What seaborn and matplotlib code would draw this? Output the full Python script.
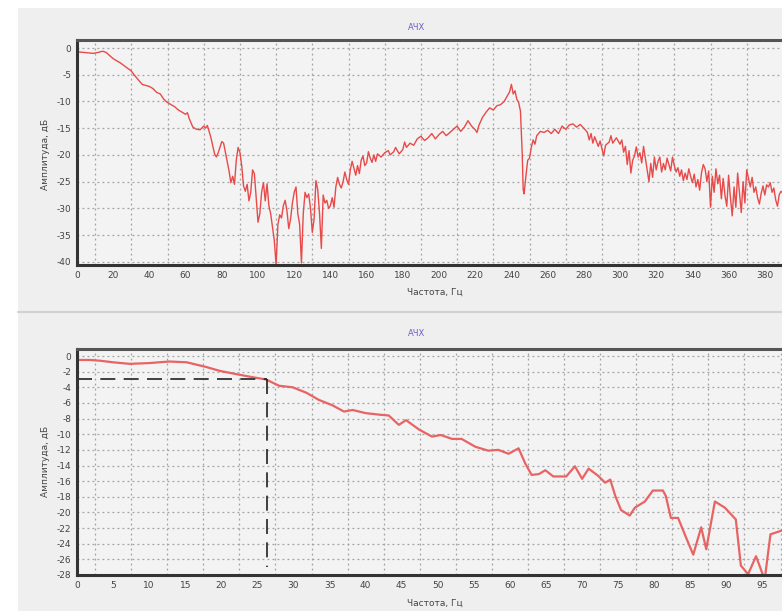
#АЧХ: two frequency response panels (full band and low band with -3 dB cutoff)
import matplotlib
matplotlib.use("Agg")
import matplotlib.pyplot as plt
from matplotlib.ticker import MultipleLocator
from matplotlib.lines import Line2D
from matplotlib.patches import Rectangle
import pandas as pd
import seaborn as sns

#верхний график: 0..390 Гц
freq_top = [0, 3, 6, 9, 12, 14, 16, 18, 20, 22, 24, 26, 28, 30, 32, 34, 36, 38, 40, 42,
            44, 46, 48, 50, 52, 54, 56, 58, 60, 61, 62, 64, 66, 68, 70, 71, 72, 73, 74, 76,
            77, 78, 80, 81, 82, 84, 85, 86, 87, 88, 89, 90, 91, 92, 93, 94, 95, 96, 97, 98,
            99, 100, 101, 102, 103, 104, 105, 106, 107, 108, 109, 110, 111, 112, 113, 114, 115, 116, 117, 118,
            119, 120, 121, 122, 123, 124, 125, 126, 127, 128, 129, 130, 131, 132, 133, 134, 135, 136, 137, 138,
            139, 140, 141, 142, 143, 144, 145, 146, 147, 148, 149, 150, 151, 152, 153, 154, 155, 156, 157, 158,
            159, 160, 161, 162, 163, 164, 165, 166, 168, 170, 172, 173, 175, 176, 178, 180, 181, 182, 184, 186,
            188, 190, 192, 194, 196, 198, 200, 202, 204, 206, 208, 210, 212, 214, 216, 218, 220, 221, 222, 224,
            226, 228, 230, 232, 234, 236, 238, 239, 240, 241, 242, 243, 244, 245, 246, 246.5, 247, 248, 249, 250,
            251, 252, 253, 254, 256, 258, 260, 262, 264, 266, 268, 270, 272, 274, 276, 278, 280, 282, 283, 284,
            285, 286, 288, 289, 291, 292, 294, 295, 296, 298, 300, 301, 302, 303, 304, 305, 306, 307, 308, 309,
            310, 311, 312, 313, 314, 315, 316, 317, 318, 319, 320, 321, 322, 323, 324, 325, 326, 327, 328, 329,
            330, 331, 332, 333, 334, 335, 336, 337, 338, 339, 340, 341, 342, 343, 344, 345, 346, 347, 348, 349,
            350, 351, 352, 353, 354, 355, 356, 357, 358, 359, 360, 361, 362, 363, 364, 365, 366, 367, 368, 369,
            370, 371, 372, 373, 374, 375, 376, 377, 378, 379, 380, 381, 382, 383, 384, 385, 386, 387, 388, 389,
            390]
amp_top = [-0.7, -0.8, -0.9, -1.0, -0.8, -0.6, -0.8, -1.4, -2.0, -2.4, -2.8, -3.3, -3.8, -4.3, -5.2, -6.0, -6.8, -7.0, -7.2, -7.6,
           -8.3, -8.6, -9.6, -10.2, -10.6, -11.0, -11.6, -12.0, -12.4, -12.1, -13.2, -14.8, -15.2, -15.3, -14.6, -15.0, -14.5, -15.6, -16.8, -19.8,
           -20.4, -19.6, -17.5, -17.8, -19.5, -23.0, -25.2, -24.0, -25.5, -21.0, -18.6, -19.5, -22.0, -25.8, -26.8, -25.5, -28.6, -27.0, -22.8, -23.5,
           -28.0, -32.6, -31.0, -27.0, -25.2, -28.6, -25.4, -29.5, -31.0, -33.5, -36.0, -40.6, -33.0, -31.2, -31.8, -29.5, -28.5, -30.5, -33.8, -32.0,
           -29.0, -27.0, -26.0, -31.0, -33.0, -40.2, -31.0, -27.0, -28.0, -27.3, -30.0, -34.5, -32.0, -24.8, -26.5, -31.0, -37.5, -27.5, -29.0, -28.5,
           -30.0, -29.5, -28.0, -29.8, -26.0, -24.2, -25.5, -26.2, -25.0, -23.2, -24.6, -25.5, -22.8, -21.2, -22.5, -23.8, -22.0, -23.5, -21.0, -20.2,
           -22.0, -21.5, -19.4, -20.6, -21.4, -20.0, -21.2, -19.8, -20.4, -19.6, -19.2, -20.0, -19.4, -18.6, -19.8, -19.0, -17.6, -18.6, -17.8, -18.2,
           -17.0, -16.5, -17.3, -16.8, -16.0, -17.0, -16.2, -15.6, -16.4, -15.8, -15.2, -14.6, -15.6, -14.8, -13.6, -14.6, -15.3, -15.8, -14.5, -13.0,
           -12.0, -11.2, -11.6, -10.8, -10.6, -10.0, -8.8, -8.2, -6.8, -8.6, -8.0, -9.6, -10.2, -11.8, -20.0, -26.5, -27.3, -24.0, -21.0, -20.6,
           -18.6, -17.2, -18.0, -16.4, -15.6, -15.8, -15.4, -16.0, -15.2, -16.0, -14.6, -15.2, -14.4, -14.2, -14.8, -14.3, -15.0, -15.8, -17.2, -16.0,
           -17.8, -16.6, -18.4, -17.4, -20.2, -18.2, -17.6, -16.4, -17.8, -16.8, -18.0, -17.2, -19.5, -18.4, -21.8, -19.2, -23.4, -21.0, -20.2, -18.5,
           -20.4, -19.6, -21.5, -18.4, -20.6, -22.8, -25.0, -21.6, -24.2, -20.4, -22.8, -21.2, -20.4, -23.2, -21.6, -22.8, -20.6, -21.8, -23.0, -20.4,
           -22.0, -23.2, -22.4, -24.0, -22.8, -24.8, -23.4, -24.6, -22.6, -24.0, -25.2, -23.6, -26.0, -24.6, -26.6, -23.4, -21.8, -22.6, -25.0, -23.0,
           -29.8, -24.0, -27.0, -22.6, -25.4, -23.8, -28.2, -24.4, -27.6, -29.6, -23.8, -28.0, -31.4, -26.0, -29.8, -23.4, -27.2, -30.8, -25.0, -29.0,
           -22.8, -24.4, -26.0, -24.2, -27.0, -26.0, -28.0, -29.2, -27.2, -25.8, -27.5, -25.6, -26.0, -25.2, -27.0, -26.2, -28.4, -29.6, -27.4, -26.8,
           -27.2]

#нижний график: 0..98 Гц
freq_bot = [0, 1.8, 3.2, 5, 7.3, 10, 12.8, 15.2, 17.9, 19.8, 22, 24.3, 26.2, 28, 29.9, 31.8, 33.5, 35.4, 37, 38.2,
            40, 41.9, 43.2, 44.6, 45.6, 47.4, 49.2, 50.4, 52, 53.3, 55.2, 57, 58.4, 59.8, 61.2, 62.1, 63, 64, 64.9, 66,
            67.8, 69, 70, 70.9, 72.2, 73.2, 73.9, 74.6, 75.4, 76.6, 77.3, 78.7, 79.8, 81.2, 81.6, 82.3, 83.3, 84.4, 85.4, 86.5,
            87.2, 88.4, 89.8, 91.3, 92, 93, 94.1, 95.3, 96.1, 97.4, 98]
amp_bot = [-0.5, -0.5, -0.6, -0.8, -1.0, -0.9, -0.7, -0.8, -1.4, -1.9, -2.3, -2.7, -3.0, -3.8, -4.0, -4.7, -5.6, -6.3, -7.1, -6.9,
           -7.3, -7.5, -7.6, -8.8, -8.2, -9.4, -10.3, -10.1, -10.6, -10.6, -11.6, -12.1, -12.0, -12.5, -11.8, -13.7, -15.2, -15.1, -14.6, -15.4,
           -15.4, -14.1, -15.7, -14.4, -15.3, -16.2, -15.8, -17.9, -19.7, -20.4, -19.4, -18.6, -17.2, -17.2, -17.9, -20.7, -20.7, -23.2, -25.4, -21.9,
           -24.7, -18.6, -19.4, -20.9, -26.8, -27.9, -25.6, -28.6, -22.8, -22.4, -22.2]

cutoff_freq = 26.3   #частота среза, Гц
cutoff_level = -3    #уровень -3 дБ

top_df = pd.DataFrame({"freq": freq_top, "amp": amp_top})
bot_df = pd.DataFrame({"freq": freq_bot, "amp": amp_bot})

sns.set_theme(style="white")
plt.rcParams["font.family"] = ["DejaVu Sans"]
plt.rcParams["axes.unicode_minus"] = False

W, H = 782, 611
fig = plt.figure(figsize=(W / 100, H / 100), dpi=100)
fig.patch.set_facecolor("white")
fig.add_artist(Rectangle((18 / W, 0), 1, 1 - 8 / H, transform=fig.transFigure,
                         facecolor="#efefef", edgecolor="none", zorder=-2))
fig.add_artist(Line2D([18 / W, 1], [1 - 312 / H] * 2, transform=fig.transFigure,
                      color="#d2d2d2", lw=1.5))

ax1 = fig.add_axes([77 / W, 1 - 265 / H, 1 - 77 / W, 225 / H])
ax2 = fig.add_axes([77 / W, 1 - 575 / H, 1 - 77 / W, 226 / H])


def style_axes(ax, xmax, xstep, ylim, ystep):
    ax.set_facecolor("#f3f3f3")
    ax.set_xlim(0, xmax)
    ax.set_ylim(*ylim)
    ax.xaxis.set_major_locator(MultipleLocator(xstep))
    ax.xaxis.set_minor_locator(MultipleLocator(xstep, offset=xstep / 2))
    ax.yaxis.set_major_locator(MultipleLocator(ystep))
    ax.grid(which="minor", axis="x", color="#a2a2a2", lw=0.9, ls=(0, (1.5, 2.5)))
    ax.grid(which="major", axis="y", color="#a2a2a2", lw=0.9, ls=(0, (1.5, 2.5)))
    ax.tick_params(which="major", labelsize=6.5, labelcolor="#444444", length=3,
                   direction="in", color="#555555", pad=4)
    ax.tick_params(which="minor", length=0)
    for side in ["left", "bottom", "top"]:
        ax.spines[side].set_color("#333333")
        ax.spines[side].set_linewidth(2.2)
    ax.spines["top"].set_color("#555555")
    ax.spines["right"].set_visible(False)
    ax.set_xlabel("")
    ax.set_ylabel("")


sns.lineplot(data=top_df, x="freq", y="amp", ax=ax1, color="#e84a4a", lw=1.0,
             estimator=None, sort=False)
style_axes(ax1, 389.5, 20, (-40.6, 1.5), 5)

sns.lineplot(data=bot_df, x="freq", y="amp", ax=ax2, color="#e86363", lw=1.6,
             estimator=None, sort=False)
ax2.plot([0, cutoff_freq], [cutoff_level, cutoff_level], color="#222222", lw=1.2,
         dashes=(9, 5))
ax2.plot([cutoff_freq, cutoff_freq], [cutoff_level, -27], color="#222222", lw=1.2,
         dashes=(9, 5))
style_axes(ax2, 97.7, 5, (-28, 0.9), 2)

for y_title, y_xlab, y_ylab in [(27, 292, 154), (333, 603, 461)]:
    fig.text(417 / W, 1 - y_title / H, "АЧХ", color="#6a5cc8", fontsize=6,
             ha="center", va="center")
    fig.text(435 / W, 1 - y_xlab / H, "Частота, Гц", color="#444444", fontsize=6.5,
             ha="center", va="center")
    fig.text(45 / W, 1 - y_ylab / H, "Амплитуда, дБ", color="#444444", fontsize=6.5,
             ha="center", va="center", rotation=90)

fig.savefig("out.png", dpi=100)
